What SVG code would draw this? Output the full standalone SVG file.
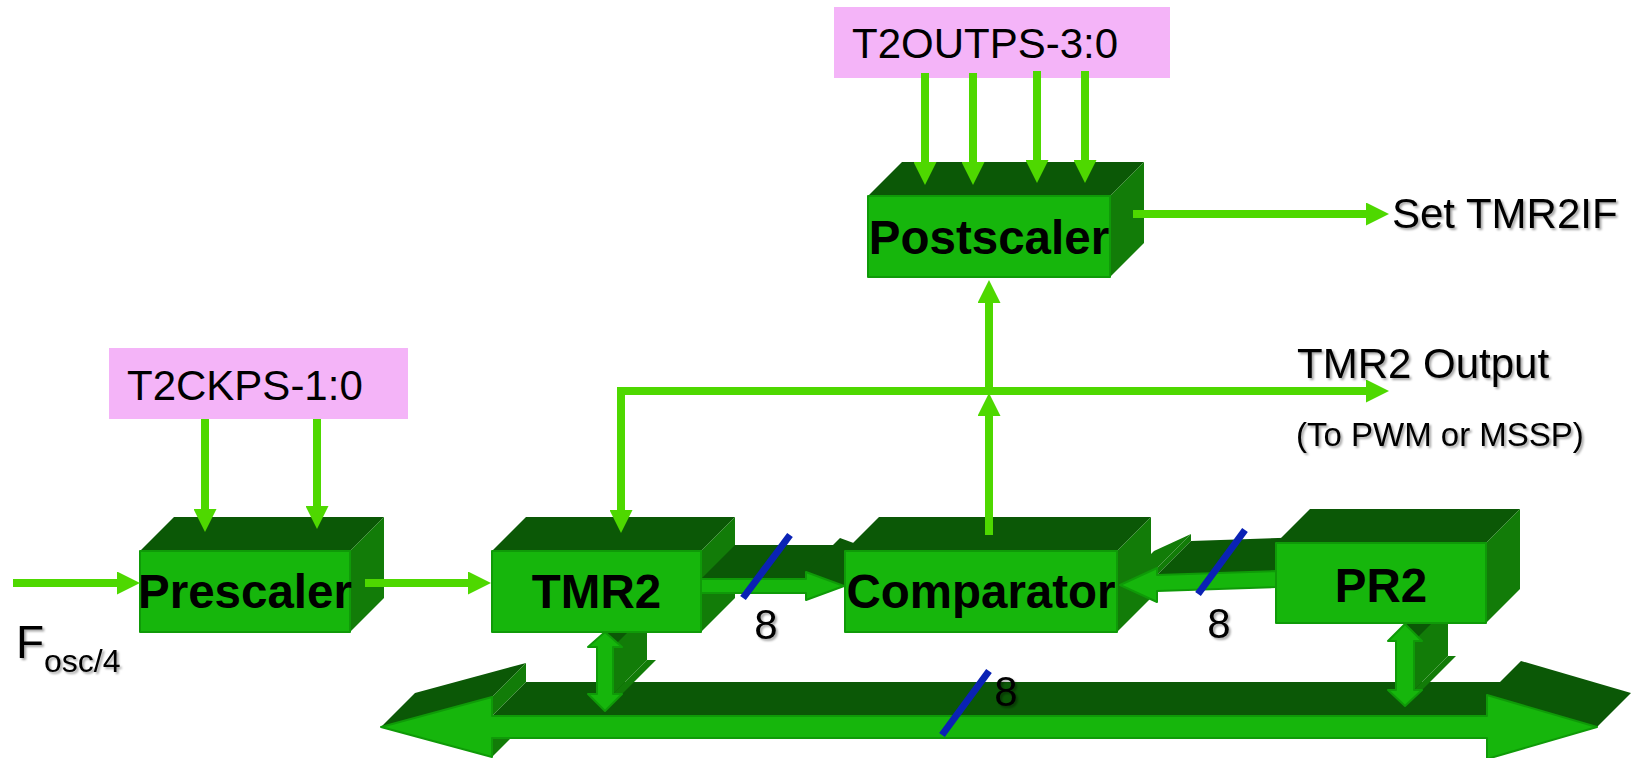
<svg xmlns="http://www.w3.org/2000/svg" width="1632" height="758" viewBox="0 0 1632 758">
  <defs>
    <style>
      .front { fill: #16B60C; stroke: #0F9A08; stroke-width: 2; stroke-linejoin: round; }
      .top { fill: #0B5806; }
      .side { fill: #127C08; }
      .wire { fill: none; stroke: #4ED800; stroke-width: 8; stroke-linejoin: miter; }
      .slash { stroke: #0A22B5; stroke-width: 7; }
      .reg { fill: #F4B4F8; }
      .blk { font-family: "Liberation Sans", Arial, sans-serif; font-weight: bold; font-size: 47.5px; fill: #000; text-anchor: middle; }
      .lbl { font-family: "Liberation Sans", Arial, sans-serif; font-size: 42px; fill: #000; }
      .sh { filter: url(#shadow); }
    </style>
    <marker id="ah" viewBox="0 0 23 23" refX="1" refY="11.5" markerWidth="23" markerHeight="23" markerUnits="userSpaceOnUse" orient="auto-start-reverse">
      <path d="M0,0 L23,11.5 L0,23 Z" fill="#4ED800"/>
    </marker>
    <filter id="shadow" x="-10%" y="-20%" width="130%" height="150%">
      <feDropShadow dx="2" dy="2" stdDeviation="0.8" flood-color="#000" flood-opacity="0.35"/>
    </filter>
  </defs>

  <!-- 8-bit data bus, double headed -->
  <g id="bus">
    <polygon class="side" points="492,738 526,704 526,723 492,757"/>
    <polygon class="top" points="492,716 526,682 1521,682 1487,716"/>
    <polygon class="top" points="381,727 415,693 526,663 492,697"/>
    <polygon class="side" points="492,697 526,663 526,682 492,716"/>
    <polygon class="top" points="1487,695 1521,661 1631,693 1597,727"/>
    <polygon class="front" points="381,727 492,697 492,716 1487,716 1487,695 1597,727 1487,759 1487,738 492,738 492,757"/>
  </g>

  <!-- TMR2 <-> bus -->
  <g id="tmr2-bus">
    <polygon class="top" points="605,632 639,598 656,613 622,647"/>
    <polygon class="side" points="613,647 647,613 647,660 613,694"/>
    <polygon class="side" points="613,694 647,660 656,660 622,694"/>
    <polygon class="front" points="605,632 622,647 613,647 613,694 622,694 605,711 588,694 597,694 597,647 588,647"/>
  </g>

  <!-- PR2 <-> bus -->
  <g id="pr2-bus">
    <polygon class="top" points="1405,624 1439,590 1456,607 1422,641"/>
    <polygon class="side" points="1414,641 1448,607 1448,656 1414,690"/>
    <polygon class="side" points="1414,690 1448,656 1456,656 1422,690"/>
    <polygon class="front" points="1405,624 1422,641 1414,641 1414,690 1422,690 1405,706 1388,690 1396,690 1396,641 1388,641"/>
  </g>

  <g id="prescaler">
    <polygon class="top" points="140,551 174,517 384,517 350,551"/>
    <polygon class="side" points="350,551 384,517 384,598 350,632"/>
    <rect class="front" x="140" y="551" width="210" height="81"/>
    <text class="blk" x="245" y="608">Prescaler</text>
  </g>

  <g id="tmr2">
    <polygon class="top" points="492,551 526,517 735,517 701,551"/>
    <polygon class="side" points="701,551 735,517 735,598 701,632"/>
    <rect class="front" x="492" y="551" width="209" height="81"/>
    <text class="blk" x="596.5" y="608">TMR2</text>
  </g>

  <!-- TMR2 -> Comparator, 8 bits -->
  <g id="tmr2-cmp">
    <polygon class="top" points="701,579 735,545 840,545 806,579"/>
    <polygon class="top" points="806,572 840,538 878,552 844,586"/>
    <polygon class="front" points="701,579 806,579 806,572 844,586 806,600 806,593 701,593"/>
  </g>

  <g id="comparator">
    <polygon class="top" points="845,551 879,517 1151,517 1117,551"/>
    <polygon class="side" points="1117,551 1151,517 1151,598 1117,632"/>
    <rect class="front" x="845" y="551" width="272" height="81"/>
    <text class="blk" x="981" y="608">Comparator</text>
  </g>

  <!-- PR2 -> Comparator, 8 bits -->
  <g id="pr2-cmp">
    <polygon class="side" points="1120,585 1157,568 1191,534 1154,551"/>
    <polygon class="side" points="1157,568 1191,534 1191,541 1157,575"/>
    <polygon class="top" points="1157,575 1191,541 1310,537 1276,571"/>
    <polygon class="front" points="1120,585 1157,568 1157,575 1276,571 1276,587 1157,591 1157,602"/>
  </g>

  <g id="pr2">
    <polygon class="top" points="1276,543 1310,509 1520,509 1486,543"/>
    <polygon class="side" points="1486,543 1520,509 1520,589 1486,623"/>
    <rect class="front" x="1276" y="543" width="210" height="80"/>
    <text class="blk" x="1381" y="602">PR2</text>
  </g>

  <g id="postscaler">
    <polygon class="top" points="868,196 902,162 1144,162 1110,196"/>
    <polygon class="side" points="1110,196 1144,162 1144,243 1110,277"/>
    <rect class="front" x="868" y="196" width="242" height="81"/>
    <text class="blk" x="989" y="254">Postscaler</text>
  </g>

  <g id="t2outps">
    <rect class="reg" x="834" y="7" width="336" height="71"/>
    <text class="lbl" x="852" y="58">T2OUTPS-3:0</text>
  </g>

  <g id="t2ckps">
    <rect class="reg" x="109" y="348" width="299" height="71"/>
    <text class="lbl" x="127" y="400">T2CKPS-1:0</text>
  </g>

  <g id="connectors">
    <path class="wire" d="M13,583 H118" marker-end="url(#ah)"/>
    <path class="wire" d="M365,583 H469" marker-end="url(#ah)"/>
    <path class="wire" d="M205,419 V510" marker-end="url(#ah)"/>
    <path class="wire" d="M317,419 V507" marker-end="url(#ah)"/>
    <path class="wire" d="M925,73 V163" marker-end="url(#ah)"/>
    <path class="wire" d="M973,73 V163" marker-end="url(#ah)"/>
    <path class="wire" d="M1037,71 V161" marker-end="url(#ah)"/>
    <path class="wire" d="M1085,71 V161" marker-end="url(#ah)"/>
    <path class="wire" d="M1133,214 H1367" marker-end="url(#ah)"/>
    <path class="wire" d="M621,511 V391 H1367" marker-start="url(#ah)" marker-end="url(#ah)"/>
    <path class="wire" d="M989,535 V415" marker-end="url(#ah)"/>
    <path class="wire" d="M989,391 V302" marker-end="url(#ah)"/>
    <line class="slash" x1="790" y1="535" x2="743" y2="598"/>
    <line class="slash" x1="1245" y1="530" x2="1198" y2="594"/>
    <line class="slash" x1="989" y1="671" x2="942" y2="735"/>
  </g>

  <g id="labels" class="sh">
    <text class="lbl" x="766" y="639" text-anchor="middle">8</text>
    <text class="lbl" x="1219" y="638" text-anchor="middle">8</text>
    <text class="lbl" x="1006" y="706" text-anchor="middle">8</text>
    <text class="lbl" x="1392" y="228">Set TMR2IF</text>
    <text class="lbl" x="1297" y="378">TMR2 Output</text>
    <text class="lbl" x="1296" y="446" style="font-size:33px">(To PWM or MSSP)</text>
    <text class="lbl" x="16" y="658" style="font-size:46px">F<tspan x="44" y="672" style="font-size:32px">osc/4</tspan></text>
  </g>
</svg>
